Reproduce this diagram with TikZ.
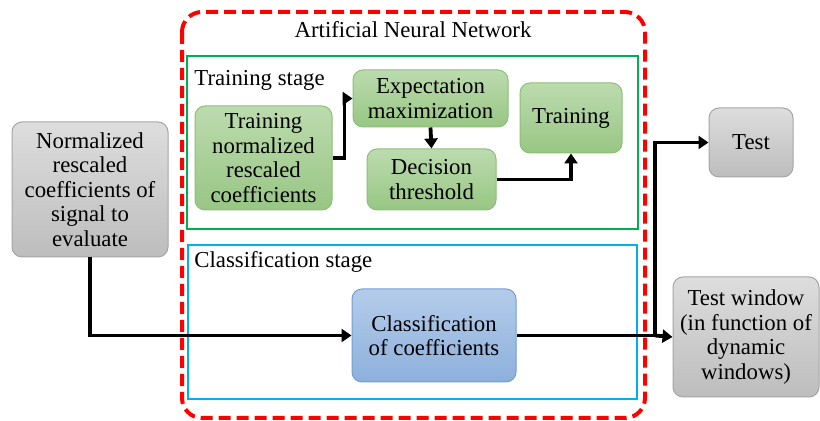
\documentclass[tikz,border=0pt]{standalone}
\usepackage{fontspec}
\setmainfont{Liberation Serif}
\usepackage{tikz}
\usetikzlibrary{positioning, arrows.meta}

\definecolor{grtop}{HTML}{BCDBAE}
\definecolor{grbot}{HTML}{98C684}
\definecolor{grline}{HTML}{8CBF78}
\definecolor{bltop}{HTML}{B4CCEA}
\definecolor{blbot}{HTML}{8DB0DC}
\definecolor{blline}{HTML}{6F9FD6}
\definecolor{gytop}{HTML}{DDDDDD}
\definecolor{gybot}{HTML}{BDBDBD}
\definecolor{gyline}{HTML}{A5A5A5}
\definecolor{annred}{HTML}{FF0000}
\definecolor{trgreen}{HTML}{00B050}
\definecolor{clblue}{HTML}{00B0F0}

\begin{document}
\begin{tikzpicture}[
    x=0.5pt, y=-0.5pt,
    every node/.style={font=\fontsize{11.4}{12.25}\selectfont},
    block/.style={draw, rectangle, rounded corners=5pt, align=center,
                  inner sep=0pt, line width=0.5pt},
    greenblock/.style={block, draw=grline, top color=grtop, bottom color=grbot},
    blueblock/.style={block, draw=blline, top color=bltop, bottom color=blbot},
    grayblock/.style={block, draw=gyline, top color=gytop, bottom color=gybot},
    arrow/.style={-{Triangle[length=5pt, width=6.5pt]}, line width=1.9pt},
    link/.style={line width=1.9pt}
]
\useasboundingbox (0,0) rectangle (820,421);

% frames
\draw[annred, line width=2pt, dash pattern=on 6pt off 3pt, rounded corners=10pt]
    (182,12) rectangle (645,418);
\draw[trgreen, line width=0.9pt] (187,56) rectangle (638,229);
\draw[clblue, line width=0.9pt] (188,245) rectangle (637,399);

\node (ann) at (413,30) {Artificial Neural Network};
\node[anchor=west, inner sep=0pt] (trstage) at (194,80) {Training stage};
\node[anchor=west, inner sep=0pt] (clstage) at (194,262) {Classification stage};

% training stage
\node[greenblock, minimum width=68.5pt, minimum height=52pt] (trn) at (263.5,158)
    {Training\\normalized\\rescaled\\coefficients};
\node[greenblock, minimum width=77.5pt, minimum height=28.5pt] (em) at (430.5,98.5)
    {Expectation\\maximization};
\node[greenblock, minimum width=64.5pt, minimum height=30.5pt] (dec) at (431.5,179.5)
    {Decision\\threshold};
\node[greenblock, minimum width=51pt, minimum height=35pt] (train) at (571,118)
    {Training};

% classification stage
\node[blueblock, minimum width=82pt, minimum height=46.5pt] (cls) at (434,335.5)
    {Classification\\of coefficients};

% outside
\node[grayblock, minimum width=78pt, minimum height=67.5pt] (norm) at (90,189.5)
    {Normalized\\rescaled\\coefficients of\\signal to\\evaluate};
\node[grayblock, minimum width=42pt, minimum height=34.5pt] (test) at (751,142.5)
    {Test};
\node[grayblock, minimum width=73pt, minimum height=60pt] (tw) at (746,337)
    {Test window\\(in function of\\dynamic\\windows)};

\coordinate (split) at (655,335.5);

\draw[arrow] (trn.east) -- ++(12,0) |- (em.west);
\draw[arrow] (em.south) -- (dec.north);
\draw[arrow] (dec.east) -| (train.south);
\draw[arrow] (norm.south) |- (cls.west);
\draw[link] (cls.east) -- (split);
\draw[arrow] (split) -- (tw.west);
\draw[arrow] (split) |- (test.west);
\end{tikzpicture}
\end{document}
